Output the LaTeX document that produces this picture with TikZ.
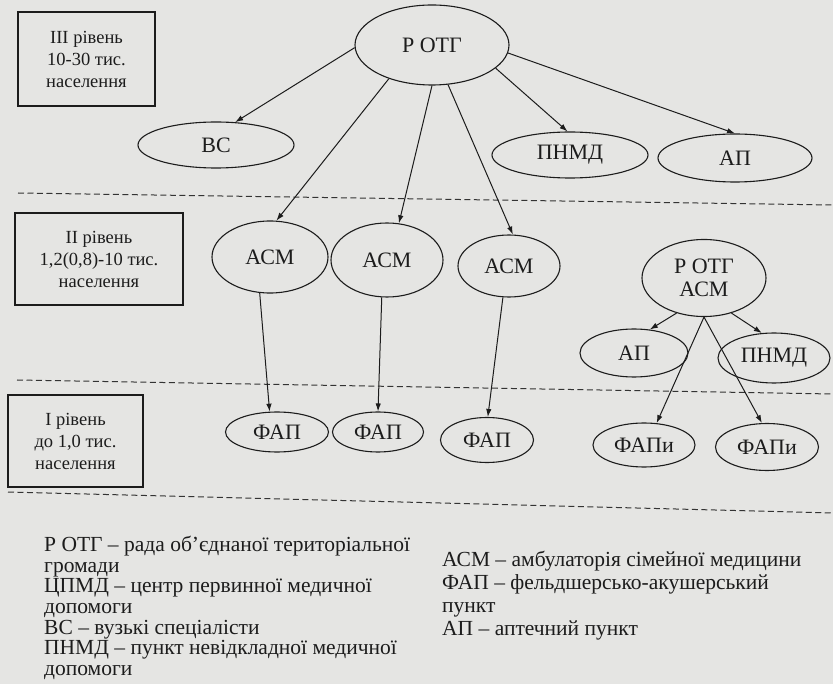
\documentclass[tikz,border=0pt]{standalone}
\usepackage{fontspec}
\setmainfont{Liberation Serif}
\usetikzlibrary{arrows.meta,shapes.geometric}
\definecolor{paper}{RGB}{229,229,227}
\definecolor{ink}{RGB}{28,28,28}
\begin{document}
\begin{tikzpicture}[x=1pt,y=-1pt,
  unit/.style={ellipse,draw=ink,line width=1.1pt,inner sep=0pt,align=center,text=ink,
    font=\fontsize{22}{23}\selectfont},
  levelbox/.style={draw=ink,line width=1.3pt,inner sep=0pt,align=center,text=ink,
    font=\fontsize{18.5}{22}\selectfont},
  link/.style={draw=ink,line width=1pt,-{Latex[length=8pt,width=5.5pt]}},
  levelsep/.style={draw=ink!90,line width=1pt,dash pattern=on 6pt off 3.5pt},
  legend/.style={anchor=base west,inner sep=0pt,text=ink,font=\fontsize{21.5}{24}\selectfont}]
\fill[paper] (0,0) rectangle (833,684);
\useasboundingbox (0,0) rectangle (833,684);

% level boxes
\node[levelbox,minimum width=137pt,minimum height=94pt] (lvl3) at (86.5,59) {III рівень\\10-30 тис.\\населення};
\node[levelbox,minimum width=168pt,minimum height=92pt] (lvl2) at (99,259) {II рівень\\1,2(0,8)-10 тис.\\населення};
\node[levelbox,minimum width=135pt,minimum height=92pt] (lvl1) at (75.5,441) {I рівень\\до 1,0 тис.\\населення};

% level separators
\draw[levelsep] (18,193) -- (833,205);
\draw[levelsep] (17,380) -- (833,394);
\draw[levelsep] (8,492) -- (833,513);

% third level
\node[unit,minimum width=154pt,minimum height=80pt] (rotg) at (432,45) {Р ОТГ};
\node[unit,minimum width=156pt,minimum height=46pt] (vs) at (216,145) {ВС};
\node[unit,minimum width=156pt,minimum height=46pt] (pnmd1) at (570,155) {ПНМД};
\node[unit,minimum width=154pt,minimum height=48pt] (ap1) at (735,158) {АП};

% second level
\node[unit,minimum width=116pt,minimum height=72pt] (asm1) at (270,257) {АСМ};
\node[unit,minimum width=112pt,minimum height=74pt] (asm2) at (387,260) {АСМ};
\node[unit,minimum width=102pt,minimum height=62pt] (asm3) at (509,266) {АСМ};
\node[unit,minimum width=124pt,minimum height=77pt] (rasm) at (704,278) {Р ОТГ\\АСМ};
\node[unit,minimum width=108pt,minimum height=48pt] (ap2) at (634,353) {АП};
\node[unit,minimum width=112pt,minimum height=50pt] (pnmd2) at (774,358) {ПНМД};

% first level
\node[unit,minimum width=103pt,minimum height=40pt] (fap1) at (277,432) {ФАП};
\node[unit,minimum width=91pt,minimum height=40pt] (fap2) at (378,432) {ФАП};
\node[unit,minimum width=93pt,minimum height=45pt] (fap3) at (487,440) {ФАП};
\node[unit,minimum width=102pt,minimum height=44pt] (fapi1) at (644,445) {ФАПи};
\node[unit,minimum width=103pt,minimum height=47pt] (fapi2) at (767,447) {ФАПи};

% connectors
\draw[link] (rotg.182) -- (vs.50);
\draw[link] (rotg.218) -- (asm1.80);
\draw[link] (rotg.270) -- (asm2.72);
\draw[link] (rotg.292) -- (asm3.83);
\draw[link] (rotg.340) -- (pnmd1.96);
\draw[link] (rotg.354) -- (ap1.90);
\draw[link] (asm1.254) -- (fap1.110);
\draw[link] (asm2.262) -- (fap2.90);
\draw[link] (asm3.259) -- (fap3.88);
\draw[link] (rasm.232) -- (ap2.56);
\draw[link] (rasm.308) -- (pnmd2.116);
\draw[link] (rasm.270) -- (fapi1.60);
\draw[link] (rasm.270) -- (fapi2.102);

% legend
\node[legend] (lg1) at (44,551) {Р ОТГ – рада об’єднаної територіальної};
\node[legend] (lg2) at (44,572) {громади};
\node[legend] (lg3) at (44,592.5) {ЦПМД – центр первинної медичної};
\node[legend] (lg4) at (44,613) {допомоги};
\node[legend] (lg5) at (44,634) {ВС – вузькі спеціалісти};
\node[legend] (lg6) at (44,654.5) {ПНМД – пункт невідкладної медичної};
\node[legend] (lg7) at (44,675) {допомоги};
\node[legend] (lg8) at (442,566) {АСМ – амбулаторія сімейної медицини};
\node[legend] (lg9) at (442,589) {ФАП – фельдшерсько-акушерський};
\node[legend] (lg10) at (442,612) {пункт};
\node[legend] (lg11) at (442,635) {АП – аптечний пункт};
\end{tikzpicture}
\end{document}
